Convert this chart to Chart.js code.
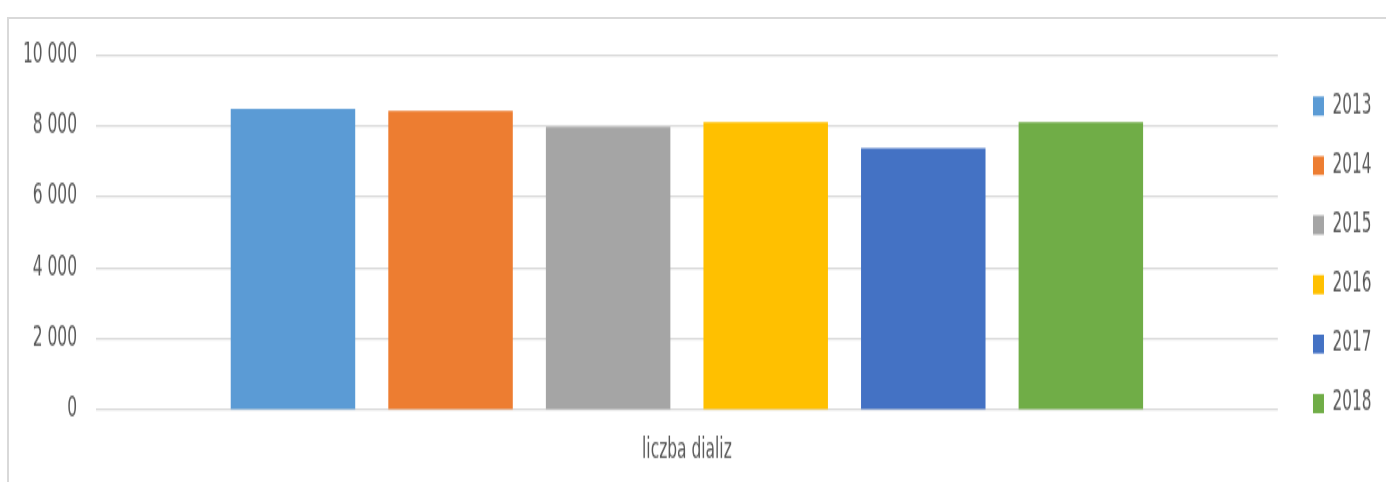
<!DOCTYPE html>
<html>
<head>
<meta charset="utf-8">
<script src="https://cdn.jsdelivr.net/npm/chart.js@4"></script>
<style>
  html, body { margin: 0; padding: 0; background: #fff; }
  #frame {
    position: absolute; left: 7px; top: 17px; right: 0; bottom: 0;
    border-left: 2px solid #d9d9d9; border-top: 2px solid #d9d9d9;
  }
</style>
</head>
<body>
<div id="frame"></div>
<!-- the chart is drawn 301px high and stretched to 482px, like the tall text of the original -->
<canvas id="myChart" width="1386" height="301"
        style="position:absolute;left:0;top:0;width:1386px;height:482px"></canvas>
<script>
const categories = ['liczba dializ']
const years = ['2013', '2014', '2015', '2016', '2017', '2018']
const values = [8480, 8420, 7970, 8110, 7380, 8110]
const colors = ['#5B9BD5', '#ED7D31', '#A5A5A5', '#FFC000', '#4472C4', '#70AD47']
const yTicks = [0, 2000, 4000, 6000, 8000, 10000]

const family = "'DejaVu Sans Condensed', 'DejaVu Sans', sans-serif"
const textColor = '#595959'

function fmt(v) {
    return String(v).replace(/\B(?=(\d{3})+(?!\d))/g, ' ')
}

const data = {
    labels: categories,
    datasets: years.map((y, i) => ({
        label: y,
        data: [values[i]],
        backgroundColor: colors[i],
        categoryPercentage: 0.8,
        barPercentage: 0.79
    }))
}

const config = {
    type: 'bar',
    data: data,
    options: {
        responsive: false,
        devicePixelRatio: 1,
        animation: false,
        layout: { padding: { top: 34.35, bottom: 9, left: 8, right: 4.6 } },
        plugins: {
            legend: {
                position: 'right',
                align: 'start',
                title: { display: true, text: ' ', font: { size: 1 }, padding: 1 },
                labels: {
                    boxWidth: 11,
                    boxHeight: 11.9,
                    padding: 20.16,
                    color: textColor,
                    font: { family: family, size: 17 }
                }
            },
            tooltip: { enabled: false }
        },
        scales: {
            x: {
                afterFit: function (scale) { scale.height = 36 },
                grid: { display: false, drawTicks: false },
                border: { display: false },
                ticks: { color: textColor, font: { family: family, size: 17.2 }, padding: 15.3 }
            },
            y: {
                min: 0,
                max: 10000,
                afterFit: function (scale) { scale.width = 88 },
                afterBuildTicks: function (scale) { scale.ticks = yTicks.map(v => ({ value: v })) },
                grid: { color: '#d9d9d9', lineWidth: 1.25, drawTicks: false },
                border: { display: false },
                ticks: { color: textColor, font: { family: family, size: 17.2 }, padding: 19, callback: v => fmt(v) }
            },
            // empty gap between the plot and the legend
            gap: {
                position: 'right',
                afterFit: function (scale) { scale.width = 15 },
                grid: { display: false, drawTicks: false },
                border: { display: false },
                ticks: { display: false }
            }
        }
    }
}

const myChart = new Chart(document.getElementById('myChart'), config)
</script>
</body>
</html>
